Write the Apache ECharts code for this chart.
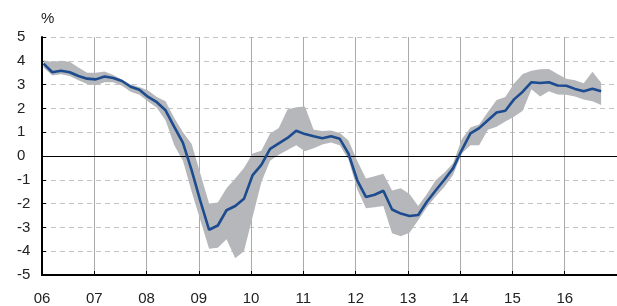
<!DOCTYPE html>
<html>
<head>
<meta charset="utf-8">
<script src="https://cdn.jsdelivr.net/npm/echarts@6/dist/echarts.min.js"></script>
<style>
html,body{margin:0;padding:0;background:#fff;}
#c{width:617px;height:306px;}
</style>
</head>
<body>
<div id="c"></div>
<script>
// Bimonthly observations, Jan 2006 .. Sep 2016
const startYear = 2006.03;
const stepYears = 1 / 6;
const yearTicks = ['06','07','08','09','10','11','12','13','14','15','16'];

const central = [
  3.88, 3.52, 3.58, 3.52, 3.36, 3.25, 3.22, 3.34, 3.28, 3.15, 2.91, 2.78,
  2.48, 2.26, 1.92, 1.22, 0.55, -0.6, -1.9, -3.1, -2.92, -2.28, -2.1, -1.8,
  -0.8, -0.37, 0.3, 0.53, 0.76, 1.06, 0.92, 0.83, 0.75, 0.83, 0.72, 0.1,
  -1.02, -1.72, -1.63, -1.46, -2.25, -2.42, -2.52, -2.48, -1.92, -1.45, -1.0, -0.52,
  0.25, 0.95, 1.17, 1.5, 1.83, 1.9, 2.38, 2.7, 3.1, 3.07, 3.1, 2.96,
  2.95, 2.82, 2.72, 2.83, 2.72
];
const upper = [
  4.02, 3.95, 4.0, 3.96, 3.72, 3.5, 3.5, 3.55, 3.4, 3.2, 3.0, 2.9,
  2.75, 2.48, 2.3, 1.6, 1.0, 0.5, -0.75, -2.0, -1.95, -1.35, -0.95, -0.5,
  0.1, 0.22, 0.95, 1.18, 1.95, 2.05, 2.08, 1.1, 1.05, 1.07, 0.97, 0.65,
  -0.2, -0.95, -0.85, -0.75, -1.45, -1.35, -1.6, -2.1, -1.6, -1.02, -0.7, -0.3,
  0.7, 1.2, 1.32, 1.85, 2.35, 2.48, 3.05, 3.45, 3.58, 3.64, 3.66, 3.45,
  3.25, 3.18, 3.06, 3.54, 3.08
];
const lower = [
  3.72, 3.38, 3.43, 3.36, 3.18, 3.03, 2.97, 3.1, 3.1, 2.95, 2.7, 2.57,
  2.29, 2.03, 1.5, 0.45, -0.2, -1.5, -2.7, -3.9, -3.85, -3.5, -4.3, -4.0,
  -2.55, -1.1, -0.2, 0.05, 0.25, 0.45, 0.2, 0.33, 0.48, 0.57, 0.45, -0.15,
  -1.4, -2.2, -2.15, -2.1, -3.25, -3.37, -3.22, -2.7, -2.15, -1.7, -1.3, -0.8,
  0.1, 0.45, 0.45, 1.1, 1.23, 1.45, 1.65, 1.9, 2.8, 2.5, 2.72, 2.58,
  2.57, 2.5, 2.37, 2.3, 2.14
];

const xs = central.map((_, i) => startYear + i * stepYears);
const lineData = central.map((v, i) => [xs[i], v]);
const upperPts = upper.map((v, i) => [xs[i], v]);
const lowerPts = lower.map((v, i) => [xs[i], v]);

const FONT = '"Liberation Sans", Arial, Helvetica, sans-serif';
const chart = echarts.init(document.getElementById('c'), null, {renderer: 'canvas'});

chart.setOption({
  animation: false,
  backgroundColor: '#ffffff',
  grid: {left: 42, right: -1, top: 37, bottom: 28, containLabel: false},
  graphic: [{
    type: 'text', left: 41, top: 11,
    style: {text: '%', font: '15px ' + FONT, fill: '#222'}
  }],
  xAxis: {
    type: 'value', min: 2006, max: 2017, interval: 1,
    axisLine: {show: true, onZero: false, lineStyle: {color: '#000', width: 2}},
    axisTick: {show: true, inside: true, length: 4, lineStyle: {color: '#000', width: 1}},
    axisLabel: {
      margin: 16, fontSize: 15, fontFamily: FONT, color: '#222',
      showMaxLabel: false,
      formatter: v => yearTicks[Math.round(v) - 2006] || ''
    },
    splitLine: {show: true, lineStyle: {color: '#aaaaaa', width: 1, type: 'solid'}}
  },
  yAxis: {
    type: 'value', min: -5, max: 5, interval: 1,
    axisLine: {show: true, onZero: false, lineStyle: {color: '#000', width: 2}},
    axisTick: {show: true, inside: true, length: 4, lineStyle: {color: '#000', width: 1}},
    axisLabel: {margin: 25, align: 'left', fontSize: 15, fontFamily: FONT, color: '#222'},
    splitLine: {show: true, lineStyle: {color: '#c4c4c4', width: 1, type: [5, 4]}}
  },
  series: [
    {
      type: 'custom',
      z: 2,
      silent: true,
      data: [0],
      renderItem: function (params, api) {
        const pts = [];
        upperPts.forEach(p => pts.push(api.coord(p)));
        for (let i = lowerPts.length - 1; i >= 0; i--) pts.push(api.coord(lowerPts[i]));
        return {
          type: 'polygon',
          shape: {points: pts},
          style: {fill: '#b5b7ba', stroke: null}
        };
      }
    },
    {
      type: 'line',
      z: 4,
      data: lineData,
      symbol: 'none',
      lineStyle: {color: '#1d4b8f', width: 2.6},
      markLine: {
        silent: true, symbol: 'none', label: {show: false},
        lineStyle: {color: '#000', width: 1.2, type: 'solid'},
        data: [{yAxis: 0}],
        z: 3
      }
    }
  ]
});
</script>
</body>
</html>
